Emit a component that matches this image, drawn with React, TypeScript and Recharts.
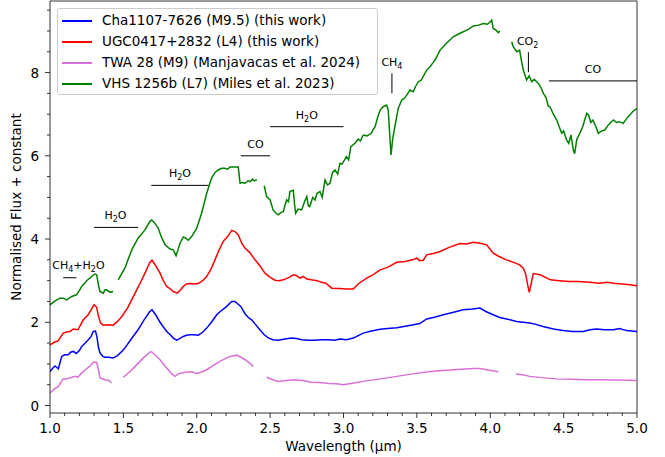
import React from "react";
import { LineChart, Line, XAxis, YAxis, ReferenceLine, ReferenceDot, Legend } from "recharts";

type Pt = [number, number | null];

// spectra: [wavelength (µm), flux + offset]; null = gap
const chaSpec: Pt[] = [
  [1.0, 0.82], [1.02, 0.9], [1.034, 0.95], [1.045, 0.92], [1.057, 0.88], [1.07, 1.05], [1.08, 1.18], [1.1, 1.22],
  [1.125, 1.22], [1.14, 1.28], [1.159, 1.3], [1.18, 1.25], [1.2, 1.32], [1.216, 1.42], [1.24, 1.5], [1.261, 1.58],
  [1.28, 1.66], [1.295, 1.78], [1.31, 1.79], [1.32, 1.65], [1.33, 1.4], [1.341, 1.26], [1.36, 1.18], [1.375, 1.16],
  [1.4, 1.16], [1.43, 1.14], [1.46, 1.2], [1.49, 1.3], [1.51, 1.38], [1.55, 1.58], [1.6, 1.82], [1.64, 2.05],
  [1.68, 2.26], [1.695, 2.3], [1.72, 2.18], [1.75, 2.0], [1.77, 1.9], [1.8, 1.76], [1.82, 1.7], [1.84, 1.62],
  [1.863, 1.57], [1.88, 1.6], [1.908, 1.66], [1.93, 1.69], [1.954, 1.7], [1.98, 1.7], [2.01, 1.69], [2.04, 1.76],
  [2.068, 1.86], [2.1, 2.0], [2.136, 2.18], [2.16, 2.26], [2.19, 2.34], [2.21, 2.4], [2.238, 2.5], [2.26, 2.5],
  [2.28, 2.44], [2.3, 2.38], [2.33, 2.2], [2.35, 2.12], [2.374, 2.06], [2.4, 1.95], [2.43, 1.82], [2.46, 1.7],
  [2.49, 1.62], [2.52, 1.58], [2.556, 1.57], [2.6, 1.6], [2.647, 1.62], [2.68, 1.61], [2.715, 1.58], [2.76, 1.57],
  [2.806, 1.57], [2.85, 1.58], [2.897, 1.58], [2.94, 1.57], [2.976, 1.6], [3.02, 1.58], [3.067, 1.62], [3.1, 1.68],
  [3.135, 1.74], [3.19, 1.79], [3.25, 1.83], [3.3, 1.85], [3.363, 1.87], [3.41, 1.9], [3.46, 1.93], [3.52, 1.97],
  [3.567, 2.08], [3.62, 2.12], [3.68, 2.18], [3.75, 2.24], [3.816, 2.3], [3.88, 2.32], [3.93, 2.34], [3.97, 2.26],
  [4.02, 2.18], [4.06, 2.12], [4.11, 2.08], [4.18, 2.02], [4.27, 1.98], [4.31, 1.95], [4.36, 1.9], [4.43, 1.84],
  [4.497, 1.8], [4.56, 1.78], [4.634, 1.78], [4.68, 1.82], [4.725, 1.84], [4.78, 1.82], [4.84, 1.82], [4.88, 1.85],
  [4.93, 1.8], [5.0, 1.78],
];

const ugcSpec: Pt[] = [
  [1.0, 1.46], [1.03, 1.52], [1.057, 1.56], [1.075, 1.66], [1.09, 1.74], [1.12, 1.77], [1.136, 1.78], [1.16, 1.84],
  [1.19, 1.82], [1.21, 1.95], [1.227, 2.06], [1.26, 2.18], [1.28, 2.3], [1.3, 2.42], [1.318, 2.36], [1.33, 2.15],
  [1.345, 1.98], [1.363, 1.93], [1.4, 1.94], [1.43, 1.93], [1.46, 2.02], [1.49, 2.14], [1.53, 2.35], [1.58, 2.7],
  [1.62, 2.98], [1.647, 3.18], [1.68, 3.44], [1.695, 3.49], [1.72, 3.36], [1.75, 3.18], [1.77, 3.02], [1.795, 2.86],
  [1.82, 2.8], [1.84, 2.74], [1.867, 2.7], [1.89, 2.78], [1.908, 2.86], [1.93, 2.92], [1.954, 2.93], [1.98, 2.92],
  [2.01, 2.93], [2.04, 3.0], [2.068, 3.1], [2.1, 3.3], [2.124, 3.5], [2.15, 3.72], [2.18, 3.94], [2.21, 4.06],
  [2.238, 4.21], [2.26, 4.18], [2.283, 4.1], [2.306, 3.9], [2.33, 3.78], [2.36, 3.68], [2.397, 3.5], [2.43, 3.36],
  [2.465, 3.18], [2.5, 3.08], [2.533, 3.01], [2.56, 3.0], [2.59, 3.02], [2.63, 3.08], [2.658, 3.14], [2.68, 3.12],
  [2.704, 3.06], [2.726, 3.1], [2.75, 3.04], [2.78, 3.02], [2.82, 3.0], [2.85, 2.96], [2.88, 2.94], [2.92, 2.82],
  [2.976, 2.81], [3.02, 2.8], [3.067, 2.8], [3.1, 2.92], [3.158, 3.06], [3.2, 3.14], [3.25, 3.26], [3.3, 3.32],
  [3.363, 3.44], [3.42, 3.46], [3.47, 3.5], [3.499, 3.54], [3.52, 3.48], [3.544, 3.49], [3.567, 3.62], [3.62, 3.66],
  [3.658, 3.7], [3.72, 3.8], [3.794, 3.89], [3.84, 3.88], [3.885, 3.92], [3.93, 3.9], [3.976, 3.86], [4.0, 3.75],
  [4.02, 3.66], [4.06, 3.58], [4.11, 3.5], [4.16, 3.44], [4.2, 3.38], [4.225, 3.3], [4.24, 3.18], [4.255, 2.9],
  [4.266, 2.72], [4.28, 2.95], [4.293, 3.17], [4.34, 3.14], [4.41, 3.02], [4.47, 3.0], [4.54, 2.98], [4.6, 2.98],
  [4.68, 2.96], [4.74, 2.94], [4.8, 2.96], [4.84, 2.94], [4.9, 2.92], [4.95, 2.9], [5.0, 2.88],
];

const twaSpec: Pt[] = [
  [1.0, 0.3], [1.03, 0.4], [1.057, 0.46], [1.075, 0.56], [1.09, 0.64], [1.11, 0.64], [1.136, 0.66], [1.17, 0.7],
  [1.19, 0.68], [1.21, 0.76], [1.24, 0.86], [1.27, 0.94], [1.295, 1.04], [1.318, 1.04], [1.33, 0.86], [1.34, 0.66],
  [1.375, 0.62], [1.4, 0.6], [1.42, 0.54], [1.46, null],
  [1.5, 0.68], [1.54, 0.8], [1.58, 0.94], [1.63, 1.12], [1.68, 1.28], [1.693, 1.29], [1.72, 1.2], [1.75, 1.1],
  [1.78, 0.96], [1.806, 0.86], [1.83, 0.76], [1.852, 0.7], [1.875, 0.76], [1.897, 0.78], [1.93, 0.8], [1.965, 0.81],
  [2.0, 0.77], [2.03, 0.8], [2.068, 0.86], [2.11, 0.96], [2.158, 1.06], [2.2, 1.14], [2.227, 1.18], [2.272, 1.21],
  [2.3, 1.16], [2.33, 1.1], [2.36, 1.02], [2.385, 0.94], [2.43, null],
  [2.476, 0.68], [2.52, 0.62], [2.556, 0.58], [2.61, 0.6], [2.67, 0.62], [2.72, 0.6], [2.78, 0.56], [2.84, 0.55],
  [2.9, 0.53], [2.95, 0.52], [3.0, 0.5], [3.07, 0.54], [3.135, 0.58], [3.25, 0.64], [3.363, 0.7], [3.47, 0.76],
  [3.59, 0.82], [3.7, 0.85], [3.8, 0.87], [3.885, 0.89], [3.93, 0.89], [3.976, 0.86], [4.055, 0.81], [4.11, null],
  [4.175, 0.76], [4.22, 0.74], [4.27, 0.7], [4.35, 0.67], [4.453, 0.64], [4.55, 0.63], [4.65, 0.62], [4.725, 0.62],
  [4.85, 0.61], [5.0, 0.6],
];

const vhsSpec: Pt[] = [
  [1.0, 2.42], [1.03, 2.5], [1.068, 2.58], [1.09, 2.58], [1.114, 2.54], [1.148, 2.62], [1.18, 2.66], [1.2, 2.76],
  [1.216, 2.86], [1.25, 3.0], [1.284, 3.1], [1.305, 3.16], [1.318, 3.14], [1.33, 2.9], [1.34, 2.74], [1.363, 2.7],
  [1.375, 2.78], [1.386, 2.78], [1.41, 2.72], [1.43, 2.74], [1.45, null],
  [1.465, 3.02], [1.51, 3.3], [1.557, 3.74], [1.6, 4.02], [1.647, 4.22], [1.68, 4.42], [1.693, 4.46], [1.71, 4.4],
  [1.738, 4.26], [1.76, 4.04], [1.784, 3.86], [1.818, 3.76], [1.84, 3.74], [1.859, 3.6], [1.872, 3.74], [1.886, 3.9],
  [1.908, 4.05], [1.925, 4.02], [1.943, 3.97], [1.965, 4.06], [1.98, 4.14], [2.0, 4.26], [2.033, 4.62], [2.068, 5.1],
  [2.1, 5.46], [2.125, 5.6], [2.147, 5.66], [2.17, 5.7], [2.19, 5.7], [2.21, 5.68], [2.227, 5.73], [2.25, 5.73],
  [2.283, 5.73], [2.29, 5.5], [2.295, 5.34], [2.31, 5.36], [2.33, 5.34], [2.35, 5.4], [2.363, 5.38], [2.38, 5.44],
  [2.39, 5.4], [2.41, 5.42], [2.435, null],
  [2.46, 5.28], [2.476, 5.02], [2.5, 4.94], [2.52, 4.7], [2.54, 4.62], [2.556, 4.58], [2.575, 4.64], [2.59, 4.66],
  [2.6, 4.8], [2.613, 4.94], [2.625, 4.9], [2.635, 5.14], [2.658, 5.17], [2.666, 4.85], [2.674, 4.62], [2.69, 4.72],
  [2.715, 4.7], [2.735, 4.9], [2.75, 5.02], [2.76, 4.8], [2.77, 4.78], [2.79, 5.0], [2.806, 4.94], [2.82, 5.1],
  [2.84, 5.14], [2.855, 5.0], [2.874, 5.42], [2.89, 5.3], [2.908, 5.34], [2.925, 5.6], [2.942, 5.66], [2.96, 5.56],
  [2.976, 5.82], [2.99, 5.8], [3.02, 5.98], [3.035, 5.9], [3.05, 6.22], [3.078, 6.3], [3.1, 6.4], [3.115, 6.36],
  [3.135, 6.5], [3.16, 6.48], [3.19, 6.54], [3.2, 6.62], [3.215, 6.7], [3.235, 6.95], [3.25, 7.1], [3.27, 7.18],
  [3.294, 7.22], [3.305, 7.1], [3.315, 6.5], [3.324, 6.02], [3.335, 6.4], [3.35, 6.7], [3.373, 7.14], [3.397, 7.34],
  [3.42, 7.4], [3.453, 7.58], [3.476, 7.54], [3.49, 7.66], [3.51, 7.78], [3.53, 7.82], [3.567, 8.06], [3.59, 8.14],
  [3.61, 8.24], [3.624, 8.3], [3.658, 8.54], [3.7, 8.7], [3.748, 8.86], [3.78, 8.92], [3.816, 8.98], [3.85, 9.04],
  [3.885, 9.12], [3.92, 9.14], [3.953, 9.18], [3.98, 9.16], [4.0, 9.22], [4.01, 9.26], [4.02, 9.06], [4.04, 9.02],
  [4.055, 8.96], [4.066, 9.0], [4.1, null],
  [4.146, 8.74], [4.157, 8.62], [4.18, 8.5], [4.2, 8.54], [4.212, 8.3], [4.225, 8.06], [4.248, 7.82], [4.265, 7.92],
  [4.283, 7.78], [4.3, 7.84], [4.327, 7.74], [4.345, 7.64], [4.362, 7.5], [4.38, 7.4], [4.395, 7.2], [4.407, 7.18],
  [4.43, 7.0], [4.453, 6.86], [4.47, 6.7], [4.487, 6.54], [4.5, 6.6], [4.52, 6.38], [4.535, 6.3], [4.55, 6.5],
  [4.566, 6.14], [4.575, 6.05], [4.59, 6.4], [4.61, 6.54], [4.63, 6.7], [4.657, 7.02], [4.67, 6.98], [4.685, 6.8],
  [4.7, 6.86], [4.72, 6.7], [4.736, 6.54], [4.76, 6.6], [4.78, 6.62], [4.8, 6.72], [4.82, 6.8], [4.84, 6.86],
  [4.86, 6.8], [4.88, 6.82], [4.906, 6.78], [4.93, 6.9], [4.95, 6.98], [4.97, 7.06], [5.0, 7.14],
];

const seriesNames = [
  "Cha1107-7626 (M9.5) (this work)",
  "UGC0417+2832 (L4) (this work)",
  "TWA 28 (M9) (Manjavacas et al. 2024)",
  "VHS 1256b (L7) (Miles et al. 2023)",
];
const seriesColors = ["#0000ff", "#ff0000", "#da70d6", "#008000"];
const seriesData = [chaSpec, ugcSpec, twaSpec, vhsSpec];

const xMajor = [1.0, 1.5, 2.0, 2.5, 3.0, 3.5, 4.0, 4.5, 5.0];
const xTicks = Array.from({ length: 41 }, (_, i) => Math.round((1 + i * 0.1) * 10) / 10);
const yMajor = [0, 2, 4, 6, 8];
const yTicks = Array.from({ length: 20 }, (_, i) => i * 0.5);

// molecular band markers
const bandLines = [
  { x1: 1.09, x2: 1.18, y: 3.07 },
  { x1: 1.3, x2: 1.6, y: 4.28 },
  { x1: 1.69, x2: 2.08, y: 5.29 },
  { x1: 2.3, x2: 2.5, y: 6.0 },
  { x1: 2.5, x2: 3.0, y: 6.7 },
  { x1: 4.4, x2: 5.0, y: 7.8 },
];
const featureMarks = [
  { x: 3.33, y1: 7.5, y2: 7.98 },
  { x: 4.26, y1: 8.01, y2: 8.49 },
];
const bandLabels = [
  { x: 1.194, y: 3.38, text: "CH4+H2O" },
  { x: 1.446, y: 4.58, text: "H2O" },
  { x: 1.886, y: 5.58, text: "H2O" },
  { x: 2.4, y: 6.28, text: "CO" },
  { x: 2.75, y: 6.98, text: "H2O" },
  { x: 3.33, y: 8.26, text: "CH4" },
  { x: 4.255, y: 8.77, text: "CO2" },
  { x: 4.7, y: 8.08, text: "CO" },
];

const Y_MIN = -0.18;
const Y_MAX = 9.72;
const TICK = 5;
const GAP = 5;
const FONT = "'DejaVu Sans', sans-serif";

const isMajor = (list: number[], v: number) => list.some((m) => Math.abs(m - v) < 1e-6);

function XTick(props: any) {
  const { x, y, payload } = props;
  const v = payload.value;
  const major = isMajor(xMajor, v);
  const ay = y - TICK - GAP;
  return (
    <g>
      <line x1={x} x2={x} y1={ay} y2={ay + (major ? 5 : 3)} stroke="#000" strokeWidth={0.8} />
      {major && (
        <text x={x} y={ay + 20} textAnchor="middle" fontSize={13.5} fill="#000">
          {v.toFixed(1)}
        </text>
      )}
    </g>
  );
}

function YTick(props: any) {
  const { x, y, payload } = props;
  const v = payload.value;
  const major = isMajor(yMajor, v);
  const ax = x + TICK + GAP;
  return (
    <g>
      <line x1={ax} x2={ax - (major ? 5 : 3)} y1={y} y2={y} stroke="#000" strokeWidth={0.8} />
      {major && (
        <text x={ax - 11} y={y + 5} textAnchor="end" fontSize={13.5} fill="#000">
          {v}
        </text>
      )}
    </g>
  );
}

function Formula({ cx, cy, text }: { cx: number; cy: number; text: string }) {
  const parts = text.match(/[0-9]+|[^0-9]+/g) || [];
  let shifted = false;
  return (
    <text x={cx} y={cy + 4} textAnchor="middle" fontSize={11} fill="#000" fontFamily={FONT}>
      {parts.map((p, i) => {
        const sub = /^[0-9]+$/.test(p);
        const dy = sub ? 3 : shifted ? -3 : 0;
        shifted = sub;
        return (
          <tspan key={i} dy={dy} fontSize={sub ? 8 : 11}>
            {p}
          </tspan>
        );
      })}
    </text>
  );
}

function LegendBox() {
  return (
    <div
      style={{
        width: 321,
        height: 87,
        boxSizing: "border-box",
        border: "1px solid #cccccc",
        borderRadius: 3,
        background: "rgba(255,255,255,0.8)",
        paddingTop: 1,
        fontFamily: FONT,
        fontSize: 13.5,
        color: "#000",
      }}
    >
      {seriesNames.map((n, i) => (
        <div key={n} style={{ height: 21, position: "relative" }}>
          <div style={{ position: "absolute", left: 4, top: 10, width: 30, height: 2, background: seriesColors[i] }} />
          <span style={{ position: "absolute", left: 44, top: 2, whiteSpace: "nowrap", lineHeight: "17px" }}>{n}</span>
        </div>
      ))}
    </div>
  );
}

export default function App() {
  return (
    <div style={{ position: "absolute", left: 0, top: 0, width: 665, height: 457, background: "#fff", fontFamily: FONT }}>
      <LineChart width={665} height={457} margin={{ top: 1, right: 28, bottom: 0, left: 0 }}>
        <XAxis
          dataKey="x"
          type="number"
          domain={[1, 5]}
          ticks={xTicks}
          interval={0}
          height={44}
          tickSize={TICK}
          tickMargin={GAP}
          tickLine={false}
          tick={<XTick />}
          stroke="#000"
          strokeWidth={0.8}
          allowDataOverflow
          label={{ value: "Wavelength (µm)", position: "insideBottom", offset: 6, fontSize: 13.5, fill: "#000" }}
        />
        <YAxis
          type="number"
          domain={[Y_MIN, Y_MAX]}
          ticks={yTicks}
          interval={0}
          width={50}
          tickSize={TICK}
          tickMargin={GAP}
          tickLine={false}
          tick={<YTick />}
          stroke="#000"
          strokeWidth={0.8}
          allowDataOverflow
          label={{
            value: "Normalised Flux + constant",
            angle: -90,
            position: "insideLeft",
            offset: 16,
            fontSize: 13.5,
            fill: "#000",
            style: { textAnchor: "middle" },
          }}
        />
        <ReferenceLine y={Y_MAX} stroke="#000" strokeWidth={0.8} ifOverflow="visible" />
        <ReferenceLine x={5} stroke="#000" strokeWidth={0.8} ifOverflow="visible" />
        {seriesData.map((d, i) => (
          <Line
            key={seriesNames[i]}
            name={seriesNames[i]}
            data={d.map(([x, y]) => ({ x, y }))}
            dataKey="y"
            stroke={seriesColors[i]}
            strokeWidth={1.5}
            dot={false}
            activeDot={false}
            connectNulls={false}
            isAnimationActive={false}
          />
        ))}
        {bandLines.map((b, i) => (
          <ReferenceLine
            key={"b" + i}
            segment={[{ x: b.x1, y: b.y }, { x: b.x2, y: b.y }]}
            stroke="#000"
            strokeWidth={1}
            ifOverflow="visible"
          />
        ))}
        {featureMarks.map((m, i) => (
          <ReferenceLine
            key={"m" + i}
            segment={[{ x: m.x, y: m.y1 }, { x: m.x, y: m.y2 }]}
            stroke="#000"
            strokeWidth={1}
            ifOverflow="visible"
          />
        ))}
        {bandLabels.map((l, i) => (
          <ReferenceDot
            key={"l" + i}
            x={l.x}
            y={l.y}
            r={0}
            ifOverflow="visible"
            shape={(p: any) => <Formula cx={p.cx} cy={p.cy} text={l.text} />}
          />
        ))}
        <Legend
          layout="vertical"
          align="center"
          verticalAlign="middle"
          wrapperStyle={{ position: "absolute", top: 8, left: 57, width: 321, height: 87 }}
          content={() => <LegendBox />}
        />
      </LineChart>
    </div>
  );
}
